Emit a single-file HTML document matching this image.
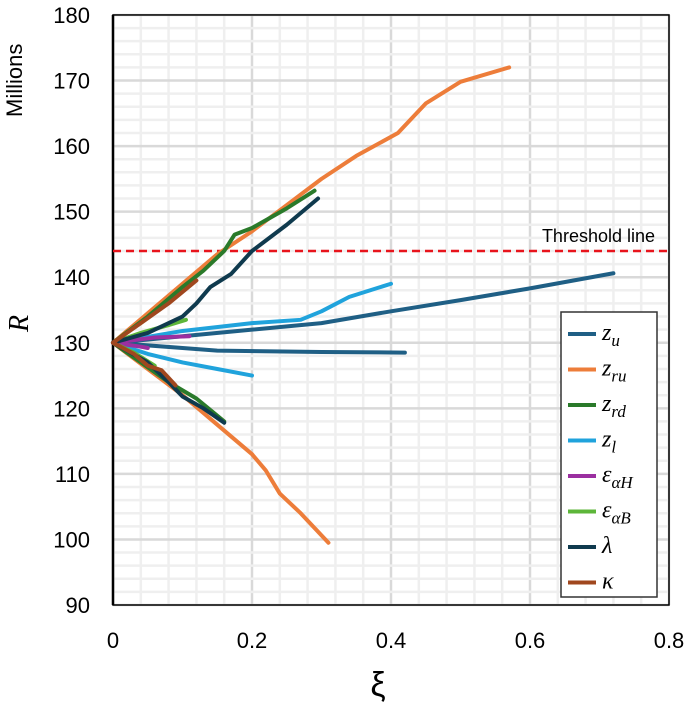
<!DOCTYPE html><html><head><meta charset="utf-8"><style>
body{margin:0;background:#fff;width:685px;height:702px;overflow:hidden}
svg{font-family:"Liberation Sans",sans-serif}
</style></head><body>
<svg id="c" width="685" height="702"></svg>
<script>
const xTicks=[0,0.2,0.4,0.6,0.8];
const yTicks=[90,100,110,120,130,140,150,160,170,180];
const threshold=144;
const names=["z_u","z_ru","z_rd","z_l","e_aH","e_aB","lambda","kappa"];
const colors=["#1f5f85","#ed7d3a","#2a7a2a","#20a3dc","#9b2fa0","#5db63a","#0f3a4e","#a0471e"];
const zuUp=[[0,130],[0.1,131],[0.2,132],[0.3,133],[0.4,134.8],[0.5,136.5],[0.6,138.3],[0.72,140.6]];
const zuDn=[[0,130],[0.1,129.2],[0.15,128.8],[0.3,128.6],[0.42,128.5]];
const zruUp=[[0,130],[0.05,134.5],[0.1,139],[0.15,143.5],[0.2,147],[0.25,151],[0.3,155],[0.35,158.5],[0.41,162],[0.45,166.5],[0.5,169.8],[0.57,172]];
const zruDn=[[0,130],[0.05,126],[0.1,122],[0.15,117.5],[0.2,113],[0.22,110.5],[0.24,107],[0.27,104],[0.31,99.5]];
const zrdUp=[[0,130],[0.05,134],[0.1,138.5],[0.13,141],[0.16,144],[0.175,146.5],[0.2,147.5],[0.25,150.5],[0.29,153.2]];
const zrdDn=[[0,130],[0.04,127],[0.08,124],[0.12,121.5],[0.16,118]];
const zlUp=[[0,130],[0.1,131.8],[0.2,133],[0.27,133.5],[0.3,134.8],[0.34,137],[0.4,139]];
const zlDn=[[0,130],[0.05,128.3],[0.1,127],[0.15,126],[0.2,125]];
const eaHUp=[[0,130],[0.06,130.8],[0.11,131]];
const eaHDn=[[0,130],[0.04,129.4],[0.05,129.2]];
const eaBUp=[[0,130],[0.04,131.5],[0.08,132.7],[0.105,133.5]];
const eaBDn=[[0,130],[0.03,128.5],[0.06,126.5]];
const lamUp=[[0,130],[0.05,131.5],[0.1,134],[0.12,136],[0.14,138.5],[0.17,140.5],[0.2,144],[0.25,148],[0.295,152]];
const lamDn=[[0,130],[0.05,127],[0.08,124],[0.1,121.8],[0.13,120],[0.16,117.8]];
const kapUp=[[0,130],[0.04,133],[0.08,136],[0.12,139.5]];
const kapDn=[[0,130],[0.03,128.3],[0.05,126.5],[0.07,125.8],[0.09,123.5]];
const series=[[zuUp,zuDn],[zruUp,zruDn],[zrdUp,zrdDn],[zlUp,zlDn],[eaHUp,eaHDn],[eaBUp,eaBDn],[lamUp,lamDn],[kapUp,kapDn]];
const X=v=>113+v*695, Y=v=>605-(v-90)*6.556;
const S=document.getElementById('c'),NS="http://www.w3.org/2000/svg";
function el(t,a,p){const e=document.createElementNS(NS,t);for(const k in a)e.setAttribute(k,a[k]);(p||S).appendChild(e);return e;}
for(let v=0;v<=0.8001;v+=0.04){const e=el('line',{x1:X(v),x2:X(v),y1:Y(180),y2:Y(90),stroke:(Math.abs(v*5-Math.round(v*5))<1e-6)?'#d9d9d9':'#efefef','stroke-width':2.5});

}
for(let v=90;v<=180;v+=2){const e=el('line',{x1:X(0),x2:X(0.8),y1:Y(v),y2:Y(v),stroke:v%10==0?'#d9d9d9':'#efefef','stroke-width':2.5});

}
const fr=el('rect',{x:X(0),y:Y(180),width:X(0.8)-X(0),height:Y(90)-Y(180),fill:'none',stroke:'#000','stroke-width':1.5});


const ax=el('line',{x1:X(0),x2:X(0),y1:Y(180),y2:Y(90),stroke:'#000','stroke-width':2.5});


xTicks.forEach(v=>{const t=el('text',{x:X(v),y:648,'text-anchor':'middle','font-size':22,fill:'#000'});t.textContent=v;

});
yTicks.forEach(v=>{const t=el('text',{x:90,y:Y(v)+8,'text-anchor':'end','font-size':22,fill:'#000'});t.textContent=v;

});
const th=el('line',{x1:X(0),x2:X(0.8),y1:Y(threshold),y2:Y(threshold),stroke:'#e8141c','stroke-width':2.5,'stroke-dasharray':'8,5'});


const tt=el('text',{x:655,y:Y(threshold)-9,'text-anchor':'end','font-size':18,fill:'#000'});tt.textContent='Threshold line';


series.forEach((pair,i)=>pair.forEach(pts=>{
const p=el('polyline',{points:pts.map(q=>X(q[0])+','+Y(q[1])).join(' '),fill:'none',stroke:colors[i],'stroke-width':4,'stroke-linejoin':'round','stroke-linecap':'round'});

}));
const lg=el('g',{});


el('rect',{x:561,y:312,width:96,height:285,fill:'#fff',stroke:'#333','stroke-width':1.5},lg);
const labs=[['z','u'],['z','ru'],['z','rd'],['z','l'],['ε','αH'],['ε','αB'],['λ',''],['κ','']];
labs.forEach((l,i)=>{const y=334+i*35.5;
const ln=el('line',{x1:568,x2:596,y1:y,y2:y,stroke:colors[i],'stroke-width':4},lg);


const t=el('text',{x:602,y:y+6,'font-size':24,'font-style':'italic','font-family':'Liberation Serif, serif',fill:'#000'},lg);


t.textContent=l[0];
if(l[1]){const s=el('tspan',{'font-size':17,dy:6},t);s.textContent=l[1];}});
const m=el('text',{x:0,y:0,'font-size':22,transform:'translate(22,117) rotate(-90)',fill:'#000'});m.textContent='Millions';


const r=el('text',{x:0,y:0,'font-size':28,'font-style':'italic','font-family':'Liberation Serif, serif',transform:'translate(28,332) rotate(-90)',fill:'#000'});r.textContent='R';


const xi=el('text',{x:378,y:696,'text-anchor':'middle','font-size':34,'font-family':'Liberation Sans, DejaVu Sans, sans-serif',fill:'#000'});xi.textContent='ξ';


</script></body></html>
